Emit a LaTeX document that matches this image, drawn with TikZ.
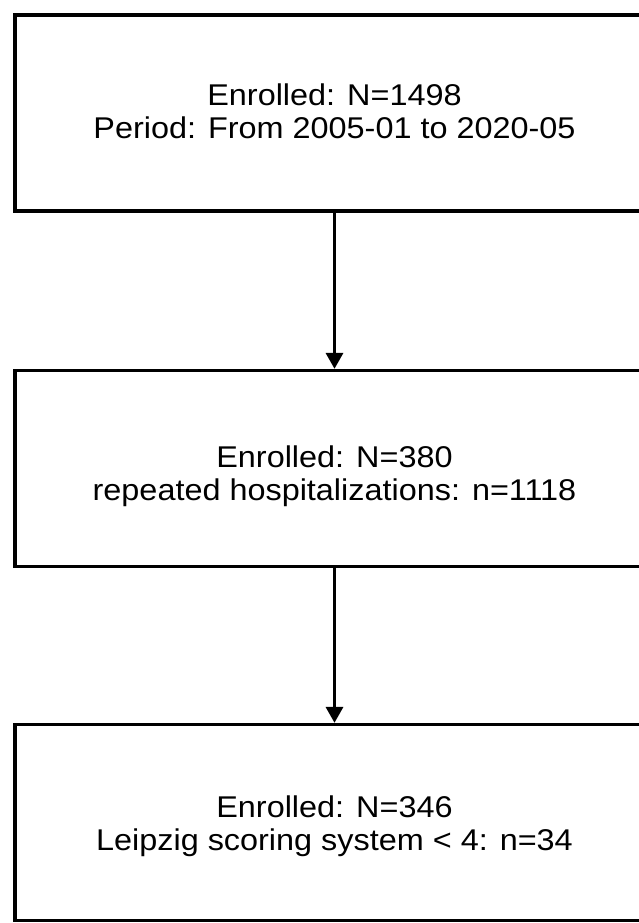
\documentclass[tikz,border=0pt]{standalone}
\usepackage{fontspec}
\setmainfont{Liberation Sans}
\usetikzlibrary{arrows.meta}
\colorlet{myline}{black}

\begin{document}
\begin{tikzpicture}[x=1pt,y=1pt]
\useasboundingbox (0,0) rectangle (639,-923);
\tikzset{StepBox/.style ={shape=rectangle, draw=myline, line width=3.3pt,
  minimum width=639pt, minimum height=196pt, inner sep=0pt}}
\tikzset{StepText/.style ={align=center, inner sep=0pt,
  font=\fontsize{30}{33}\selectfont, xscale=1.08}}
\tikzset{StepArrow/.style ={-{Triangle[width=17pt,length=16pt]}, line width=3.3pt, draw=myline}}
\node[StepBox] (enrolled) at (334.5,-113) {};
\node[StepBox] (repeated) at (334.5,-468.5) {};
\node[StepBox] (leipzig) at (334.5,-822.5) {};
\node[StepText, yshift=2pt] (enrolledtext) at (enrolled) {Enrolled: N=1498\\Period: From 2005-01 to 2020-05};
\node[StepText, yshift=-7.5pt] (repeatedtext) at (repeated) {Enrolled: N=380\\repeated hospitalizations: n=1118};
\node[StepText, yshift=-3.5pt] (leipzigtext) at (leipzig) {Enrolled: N=346\\Leipzig scoring system < 4: n=34};
\draw[StepArrow] (enrolled) -- (repeated);
\draw[StepArrow] (repeated) -- (leipzig);
\end{tikzpicture}
\end{document}
